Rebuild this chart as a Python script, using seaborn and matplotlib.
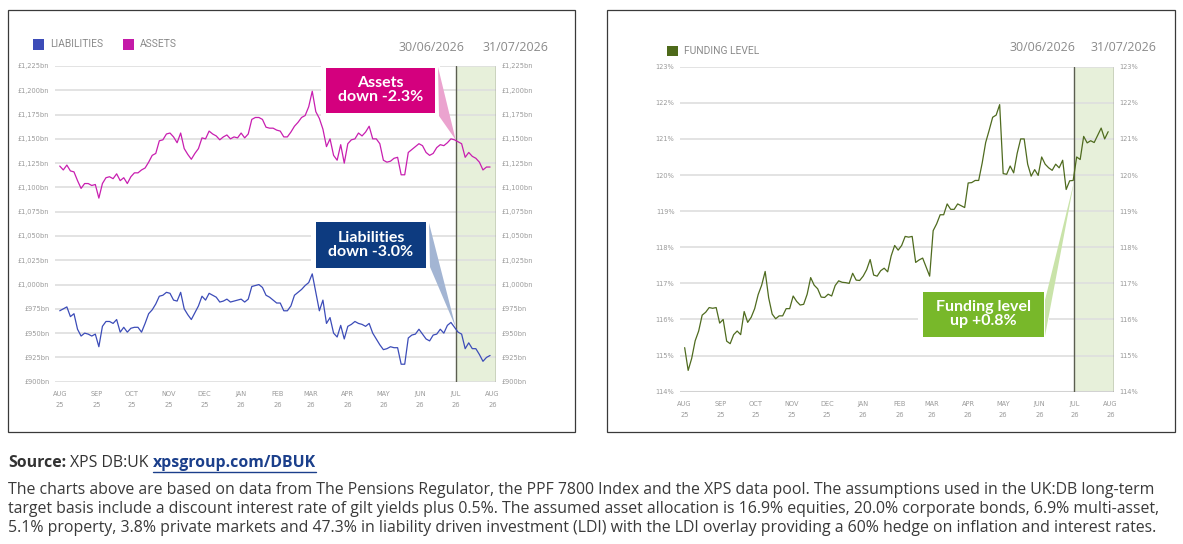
import pandas as pd
import matplotlib
matplotlib.use("Agg")
import matplotlib.pyplot as plt
import matplotlib.dates as mdates
from matplotlib.patches import Rectangle, Polygon
from matplotlib.lines import Line2D
import seaborn as sns

# values, one every 3 days from 1 Aug 2025
assets = [
    1122, 1118, 1123, 1117, 1116, 1107, 1099, 1104, 1104, 1102,
    1103, 1089, 1104, 1110, 1111, 1109, 1114, 1107, 1110, 1104,
    1111, 1115, 1115, 1118, 1120, 1126, 1133, 1135, 1148, 1149,
    1155, 1156, 1152, 1146, 1156, 1140, 1134, 1129, 1135, 1140,
    1151, 1150, 1158, 1155, 1153, 1149, 1152, 1154, 1150, 1152,
    1151, 1156, 1151, 1155, 1170, 1172, 1172, 1170, 1162, 1161,
    1161, 1159, 1158, 1152, 1152, 1157, 1163, 1167, 1172, 1174,
    1183, 1199, 1178, 1171, 1160, 1142, 1150, 1133, 1128, 1144,
    1125, 1145, 1149, 1150, 1156, 1153, 1157, 1163, 1150, 1150,
    1145, 1128, 1126, 1127, 1130, 1131, 1113, 1113, 1136, 1139,
    1142, 1145, 1143, 1136, 1133, 1135, 1141, 1144, 1143, 1146,
    1150, 1149, 1147, 1145, 1131, 1136, 1132, 1130, 1126, 1118,
    1121, 1121,
]
liabilities = [
    973, 975, 977, 967, 970, 954, 947, 950, 949, 947,
    949, 936, 957, 962, 962, 960, 964, 951, 956, 951,
    955, 956, 956, 951, 960, 970, 974, 980, 988, 989,
    992, 991, 984, 983, 992, 975, 969, 964, 971, 978,
    988, 984, 991, 989, 987, 982, 983, 985, 982, 983,
    984, 985, 982, 985, 998, 999, 1000, 997, 989, 987,
    984, 981, 981, 973, 973, 978, 989, 992, 995, 999,
    1002, 1011, 992, 973, 984, 960, 966, 950, 946, 958,
    944, 957, 959, 962, 960, 959, 957, 960, 950, 944,
    938, 933, 934, 936, 935, 935, 918, 918, 945, 948,
    949, 954, 949, 944, 942, 948, 949, 954, 950, 958,
    961, 956, 951, 949, 934, 940, 934, 934, 928, 921,
    925, 927,
]
funding_level = [
    115.22, 114.59, 114.92, 115.41, 115.68, 116.12, 116.2, 116.33, 116.31, 116.33,
    115.9, 116.0, 115.4, 115.33, 115.58, 115.68, 115.58, 116.22, 115.92, 116.06,
    116.3, 116.69, 116.95, 117.33, 116.6, 116.15, 116.02, 116.1, 116.1, 116.3,
    116.3, 116.65, 116.5, 116.4, 116.42, 116.7, 117.16, 116.95, 116.85, 116.62,
    116.61, 116.7, 116.65, 116.94, 117.07, 117.03, 117.02, 117.0, 117.28, 117.09,
    117.08, 117.2, 117.38, 117.66, 117.23, 117.2, 117.35, 117.42, 117.32, 117.76,
    118.05, 117.92, 118.05, 118.3, 118.28, 118.3, 117.58, 117.65, 117.7, 117.45,
    117.2, 118.46, 118.65, 118.9, 118.9, 119.2, 119.05, 119.05, 119.2, 119.15,
    119.1, 119.78, 119.79, 119.85, 119.85, 120.33, 120.9, 121.24, 121.6, 121.66,
    121.95, 120.04, 120.02, 120.25, 120.06, 120.6, 121.0, 121.0, 120.3, 119.97,
    120.15, 119.99, 120.5, 120.3, 120.2, 120.13, 120.3, 120.2, 120.41, 119.6,
    119.84, 119.85, 120.5, 120.43, 121.07, 120.89, 120.95, 120.9, 121.1, 121.3,
    121.0, 121.2,
]

month_labels = ["AUG\n25", "SEP\n25", "OCT\n25", "NOV\n25", "DEC\n25", "JAN\n26", "FEB\n26",
                "MAR\n26", "APR\n26", "MAY\n26", "JUN\n26", "JUL\n26", "AUG\n26"]
money_ticks = list(range(900, 1226, 25))
pct_ticks = list(range(114, 124))

dates = pd.date_range("2025-08-01", periods=len(assets), freq="3D")
df = pd.DataFrame({"date": dates, "Assets": assets, "Liabilities": liabilities,
                   "Funding level": funding_level})

sns.set_style("white")
plt.rcParams["font.family"] = ["Open Sans", "DejaVu Sans"]

W, H = 1183, 544
fig = plt.figure(figsize=(W / 100, H / 100), dpi=100)


def fx(x):
    return x / W


def fy(y):
    return 1 - y / H


# panel frames
for x0, x1 in [(8, 575), (607, 1175)]:
    fig.add_artist(Rectangle((fx(x0), fy(432)), (x1 - x0) / W, 422 / H, transform=fig.transFigure,
                             fill=False, ec="#3a3a3a", lw=0.9))

ax1 = fig.add_axes([fx(55), fy(381.7), 441 / W, 315.7 / H])
ax2 = fig.add_axes([fx(680), fy(391.7), 434 / W, 325 / H])

sns.lineplot(data=df, x="date", y="Assets", ax=ax1, color="#c81fb0", lw=0.9)
sns.lineplot(data=df, x="date", y="Liabilities", ax=ax1, color="#3c4cb8", lw=0.9)
sns.lineplot(data=df, x="date", y="Funding level", ax=ax2, color="#4f6b1f", lw=0.9)

x_start, x_end = pd.Timestamp("2025-07-28"), pd.Timestamp("2026-08-04")
shade_start = pd.Timestamp("2026-07-01")
month_starts = pd.date_range("2025-08-01", "2026-08-01", freq="MS")
tick_font = ["Liberation Sans Narrow", "DejaVu Sans"]


def style_axis(ax, ticks, labels):
    ax.set_xlim(x_start, x_end)
    ax.set_ylim(ticks[0], ticks[-1])
    ax.set_xticks(month_starts)
    ax.set_xticklabels(month_labels)
    ax.set_yticks(ticks)
    ax.set_yticklabels(labels)
    ax.set_xlabel("")
    ax.set_ylabel("")
    ax.tick_params(axis="y", labelleft=True, labelright=True, length=0, pad=4,
                   labelsize=4.8, labelcolor="#9a9a9a")
    ax.tick_params(axis="x", length=0, pad=6.5, labelsize=4.8, labelcolor="#9a9a9a")
    for lbl in ax.get_xticklabels() + ax.yaxis.get_ticklabels(which="both"):
        lbl.set_family(tick_font)
    for lbl in ax.get_xticklabels():
        lbl.set_linespacing(2.0)
        lbl.set_verticalalignment("top")
    ax.grid(axis="y", color="#dedede", lw=1.2)
    ax.set_axisbelow(True)
    for s in ax.spines.values():
        s.set_visible(False)
    ax.axvspan(shade_start, x_end, color="#e7f0da", zorder=0.3, lw=0)
    for d in [shade_start, x_end]:
        ax.axvline(d, color="#5b5e50", lw=1.0, zorder=1.5)


style_axis(ax1, money_ticks, [f"£{v:,}bn" for v in money_ticks])
style_axis(ax2, pct_ticks, [f"{v}%" for v in pct_ticks])
ax2.axhline(114, color="#d2d2d2", lw=2.2, zorder=0.6)


# legends
def legend_item(x, y, color, label):
    fig.add_artist(Rectangle((fx(x), fy(y + 5.5)), 11 / W, 10.5 / H, transform=fig.transFigure,
                             fc=color, ec="none"))
    fig.text(fx(x + 17), fy(y), label, ha="left", va="center", fontsize=7.4,
             color="#8a8a8a", family=["Roboto", "DejaVu Sans"])


legend_item(33, 44.3, "#3c4cb8", "LIABILITIES")
legend_item(123, 44.3, "#c41aa8", "ASSETS")
legend_item(667, 50.5, "#4e6a1a", "FUNDING LEVEL")

for x, y, s in [(431, 47.3, "30/06/2026"), (515, 47.3, "31/07/2026"),
                (1042, 47.7, "30/06/2026"), (1123.5, 47.7, "31/07/2026")]:
    fig.text(fx(x), fy(y), s, ha="center", va="center", fontsize=8.9, color="#8a8a8a")


# call-out boxes
def callout(ax, box, text, color, wedge_color, base, series):
    x0, y0, x1, y1 = box
    fig.add_artist(Rectangle((fx(x0 - 5), fy(y1 + 5)), (x1 - x0 + 10) / W, (y1 - y0 + 10) / H,
                             transform=fig.transFigure, fc="white", ec="none", zorder=3))
    fig.add_artist(Rectangle((fx(x0), fy(y1)), (x1 - x0) / W, (y1 - y0) / H,
                             transform=fig.transFigure, fc=color, ec="none", zorder=4))
    fig.text(fx((x0 + x1) / 2), fy((y0 + y1) / 2), text, ha="center", va="center",
             fontsize=11.5, weight="bold", color="white", linespacing=1.0,
             family=["Lato", "DejaVu Sans"], zorder=5)
    i = (df["date"] - shade_start).abs().idxmin()
    tip = ax.transData.transform((mdates.date2num(shade_start), df[series][i]))
    tip = fig.transFigure.inverted().transform(tip)
    pts = [(fx(base[0][0]), fy(base[0][1])), (fx(base[1][0]), fy(base[1][1])), tuple(tip)]
    fig.add_artist(Polygon(pts, closed=True, transform=fig.transFigure, fc=wedge_color,
                           ec="none", zorder=4))


callout(ax1, (326, 67.7, 435, 112.7), "Assets\ndown -2.3%", "#d4007e", "#eba3cf",
        [(438, 67), (439, 116)], "Assets")
callout(ax1, (316, 221.7, 426, 267.7), "Liabilities\ndown -3.0%", "#0d3b80", "#a3b5d3",
        [(429, 223), (430, 267)], "Liabilities")
callout(ax2, (922.7, 291.7, 1044, 336.7), "Funding level\nup +0.8%", "#78b82a", "#c9e3a9",
        [(1045, 336), (1045, 300)], "Funding level")

# source and notes
renderer = fig.canvas.get_renderer()
x = 8
parts = [("Source:", "bold", "#333333"), ("XPS DB:UK", "normal", "#333333"),
         ("xpsgroup.com/DBUK", "bold", "#1b3f8b")]
for s, w, c in parts:
    t = fig.text(fx(x), fy(463), s, ha="left", va="center", fontsize=11.4, weight=w, color=c)
    bb = t.get_window_extent(renderer)
    if s.startswith("xps"):
        fig.add_artist(Line2D([bb.x0 / W, bb.x1 / W], [fy(471.5), fy(471.5)],
                              transform=fig.transFigure, color=c, lw=1.0))
    x = bb.x1 + 4

notes = [
    "The charts above are based on data from The Pensions Regulator, the PPF 7800 Index and the XPS data pool. "
    "The assumptions used in the UK:DB long-term",
    "target basis include a discount interest rate of gilt yields plus 0.5%. The assumed asset allocation is "
    "16.9% equities, 20.0% corporate bonds, 6.9% multi-asset,",
    "5.1% property, 3.8% private markets and 47.3% in liability driven investment (LDI) with the LDI overlay "
    "providing a 60% hedge on inflation and interest rates.",
]
for line, y in zip(notes, [490, 509, 528]):
    fig.text(fx(8), fy(y), line, ha="left", va="center", fontsize=11.4, color="#3a3a3a")

fig.savefig("out.png", dpi=100)
